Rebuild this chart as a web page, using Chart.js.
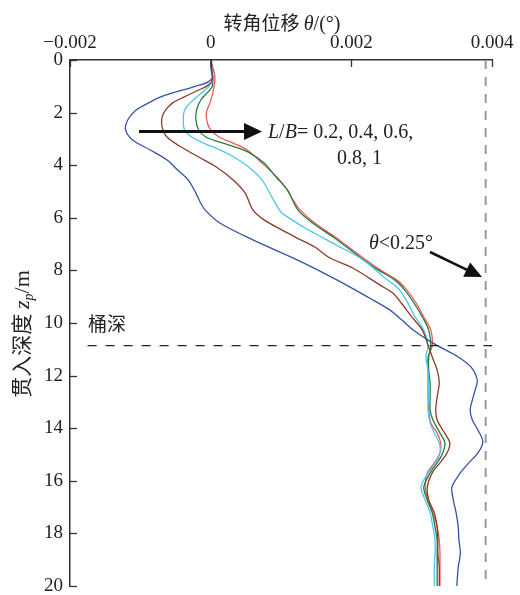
<!DOCTYPE html>
<html>
<head>
<meta charset="utf-8">
<script src="https://cdn.jsdelivr.net/npm/chart.js@4.4.0/dist/chart.umd.min.js"></script>
<style>
  html, body { margin: 0; padding: 0; background: #fff; }
  #wrap { width: 520px; height: 595px; }
</style>
</head>
<body>
<div id="wrap"><canvas id="chart" width="520" height="595"></canvas></div>
<script>
// L/B ratios of the five curves (left to right at 2-3 m depth)
const lbRatios = ['0.2', '0.4', '0.6', '0.8', '1'];

// depth z_p (m) and rotation angle θ (°), one pair per curve
const depth02 = [0, 0.38, 0.68, 0.84, 0.95, 1.10, 1.25, 1.41, 1.60, 1.90, 2.28, 2.66, 3.04, 3.42, 3.80, 4.18, 4.56, 5.06, 5.40, 5.70,
    6.20, 6.84, 7.60, 8.37, 9.13, 9.51, 9.89, 10.27, 10.65, 10.87, 11.29, 11.67, 12.17, 12.55, 12.93, 13.31, 13.69, 14.07, 14.52, 14.94,
    15.32, 15.70, 16.24, 16.73, 17.22, 17.76, 18.25, 18.75, 19.28, 20.0];
const theta02 = [0, 0.00001, 0.00002, -0.00004, -0.00015, -0.00034, -0.00054, -0.00072, -0.00086, -0.00106, -0.00118, -0.00121, -0.00111, -0.00086, -0.00062, -0.00047, -0.00032, -0.00021, -0.00015, -0.00008,
    0.00013, 0.00060, 0.00123, 0.00180, 0.00231, 0.00255, 0.00272, 0.00288, 0.00309, 0.00323, 0.00352, 0.00370, 0.00379, 0.00376, 0.00372, 0.00369, 0.00372, 0.00380, 0.00387, 0.00380,
    0.00367, 0.00355, 0.00343, 0.00345, 0.00349, 0.00352, 0.00353, 0.00355, 0.00352, 0.00350];

const depth04 = [0, 0.38, 0.68, 0.87, 1.03, 1.14, 1.41, 1.63, 1.90, 2.17, 2.55, 2.93, 3.31, 3.69, 4.07, 4.56, 5.06, 5.70, 6.08, 6.46,
    6.77, 7.11, 7.53, 7.91, 8.56, 8.86, 9.24, 9.77, 10.27, 10.76, 11.29, 11.79, 12.28, 12.81, 13.31, 13.69, 14.07, 14.56, 14.94, 15.32,
    15.70, 16.24, 16.73, 17.22, 17.76, 18.25, 18.75, 19.28, 20];
const theta04 = [0, 0.00001, 0.00003, 0.00000, -0.00008, -0.00017, -0.00038, -0.00054, -0.00064, -0.00069, -0.00069, -0.00062, -0.00042, -0.00017, 0.00008, 0.00032, 0.00049, 0.00060, 0.00076, 0.00101,
    0.00123, 0.00148, 0.00170, 0.00202, 0.00241, 0.00259, 0.00271, 0.00286, 0.00301, 0.00308, 0.00315, 0.00322, 0.00325, 0.00322, 0.00320, 0.00322, 0.00330, 0.00340, 0.00336, 0.00326,
    0.00315, 0.00308, 0.00310, 0.00318, 0.00322, 0.00323, 0.00323, 0.00325, 0.00325];

const depth06 = [0, 0.38, 0.76, 0.95, 1.14, 1.41, 1.63, 1.90, 2.28, 2.66, 2.93, 3.16, 3.42, 3.69, 4.07, 4.56, 5.21, 5.78, 6.08, 6.39,
    6.69, 7.03, 7.45, 7.79, 8.29, 8.67, 9.13, 9.70, 10.27, 10.87, 11.29, 11.79, 12.28, 12.81, 13.31, 13.80, 14.18, 14.56, 14.94, 15.32,
    15.70, 16.24, 16.73, 17.22, 17.76, 18.25, 18.75, 19.28, 20];
const theta06 = [0, 0.00001, 0.00003, -0.00001, -0.00008, -0.00020, -0.00029, -0.00037, -0.00039, -0.00037, -0.00027, -0.00010, 0.00013, 0.00033, 0.00054, 0.00073, 0.00087, 0.00100, 0.00116, 0.00134,
    0.00155, 0.00178, 0.00208, 0.00226, 0.00248, 0.00266, 0.00278, 0.00289, 0.00303, 0.00309, 0.00306, 0.00309, 0.00310, 0.00310, 0.00309, 0.00312, 0.00318, 0.00325, 0.00326, 0.00320,
    0.00309, 0.00299, 0.00305, 0.00312, 0.00316, 0.00319, 0.00319, 0.00318, 0.00318];

const depth08 = [0, 0.38, 0.68, 1.03, 1.25, 1.52, 1.90, 2.28, 2.66, 2.93, 3.12, 3.31, 3.54, 3.92, 4.45, 4.94, 5.70, 6.20, 6.73, 7.49,
    7.98, 8.37, 8.75, 9.24, 9.77, 10.27, 10.87, 11.29, 11.79, 12.28, 12.81, 13.31, 13.69, 14.18, 14.56, 14.94, 15.32, 15.70, 16.24, 16.73,
    17.22, 17.76, 18.25, 18.75, 19.28, 20];
const theta08 = [0, 0.00002, 0.00003, 0.00002, -0.00005, -0.00014, -0.00020, -0.00021, -0.00017, -0.00007, 0.00013, 0.00035, 0.00056, 0.00076, 0.00093, 0.00109, 0.00124, 0.00145, 0.00174, 0.00212,
    0.00238, 0.00262, 0.00276, 0.00289, 0.00301, 0.00310, 0.00313, 0.00310, 0.00310, 0.00312, 0.00312, 0.00312, 0.00316, 0.00326, 0.00333, 0.00330, 0.00322, 0.00312, 0.00303, 0.00308,
    0.00315, 0.00319, 0.00322, 0.00322, 0.00322, 0.00322];

const depth10 = [0, 0.27, 0.65, 1.14, 1.63, 1.98, 2.36, 2.66, 2.93, 3.16, 3.42, 3.92, 4.45, 4.94, 5.32, 5.70, 6.20, 6.73, 7.49, 7.98,
    8.37, 8.75, 9.24, 9.77, 10.27, 10.87, 11.29, 11.79, 12.28, 12.81, 13.31, 13.80, 14.18, 14.56, 14.94, 15.32, 15.70, 16.24, 16.73, 17.22,
    17.76, 18.25, 18.75, 19.28, 20];
const theta10 = [0, 0.00003, 0.00006, 0.00004, -0.00001, -0.00006, -0.00005, 0.00000, 0.00012, 0.00032, 0.00052, 0.00073, 0.00094, 0.00109, 0.00117, 0.00127, 0.00148, 0.00177, 0.00215, 0.00241,
    0.00265, 0.00279, 0.00292, 0.00303, 0.00313, 0.00315, 0.00309, 0.00309, 0.00309, 0.00309, 0.00310, 0.00313, 0.00322, 0.00327, 0.00326, 0.00318, 0.00308, 0.00305, 0.00309, 0.00316,
    0.00322, 0.00325, 0.00326, 0.00326, 0.00326];

// reference lines
const bucketDepth = 10.86;          // 桶深
const thetaLimit = 0.00391;         // θ<0.25°
const bucketLineX = [-0.00175, 0.004];

// axis ticks
const xTicks = [-0.002, 0, 0.002, 0.004];
const yTicks = [0, 2, 4, 6, 8, 10, 12, 14, 16, 18, 20];

const serif = "'Liberation Serif', 'Times New Roman', serif";
const cjk = "'Noto Sans CJK SC', 'Noto Sans', sans-serif";
const lineColors = ['#3553a6', '#8b3b27', '#4cc6ee', '#2b7b3d', '#f0575a'];

const curves = [[depth02, theta02], [depth04, theta04], [depth06, theta06], [depth08, theta08], [depth10, theta10]];

function toPoints(depths, thetas) {
    return depths.map((z, i) => ({ x: thetas[i], y: z }));
}

function fmtTick(v) {
    if (Math.abs(v) < 1e-9) return '0';
    return (v < 0 ? '\u2212' : '') + Math.abs(v).toFixed(3);
}

// draw a row of text runs with mixed fonts, centred or left-aligned at x
function drawRuns(ctx, runs, x, y, align) {
    let total = 0;
    runs.forEach(r => { ctx.font = r.font; r.w = ctx.measureText(r.text).width; total += r.w; });
    let cx = align === 'center' ? x - total / 2 : x;
    ctx.textAlign = 'left';
    ctx.textBaseline = 'alphabetic';
    runs.forEach(r => {
        ctx.font = r.font;
        ctx.fillText(r.text, cx, y + (r.dy || 0));
        cx += r.w;
    });
}

function arrow(ctx, x1, y1, x2, y2, headLen, headHalf, width) {
    const dx = x2 - x1, dy = y2 - y1;
    const len = Math.hypot(dx, dy);
    const ux = dx / len, uy = dy / len;
    const bx = x2 - ux * headLen, by = y2 - uy * headLen;
    ctx.save();
    ctx.strokeStyle = '#111';
    ctx.fillStyle = '#111';
    ctx.lineWidth = width;
    ctx.beginPath();
    ctx.moveTo(x1, y1);
    ctx.lineTo(bx + ux, by + uy);
    ctx.stroke();
    ctx.beginPath();
    ctx.moveTo(x2, y2);
    ctx.lineTo(bx - uy * headHalf, by + ux * headHalf);
    ctx.lineTo(bx + uy * headHalf, by - ux * headHalf);
    ctx.closePath();
    ctx.fill();
    ctx.restore();
}

const decorPlugin = {
    id: 'decor',
    afterDraw(chart) {
        const ctx = chart.ctx;
        const xs = chart.scales.x, ys = chart.scales.y;
        const area = chart.chartArea;

        // inward tick marks
        ctx.save();
        ctx.strokeStyle = '#333';
        ctx.lineWidth = 1.3;
        yTicks.forEach(v => {
            const py = Math.round(ys.getPixelForValue(v)) + 0.5;
            ctx.beginPath();
            ctx.moveTo(area.left, py);
            ctx.lineTo(area.left + 7, py);
            ctx.stroke();
        });
        xTicks.forEach(v => {
            const px = Math.round(xs.getPixelForValue(v)) + 0.5;
            ctx.beginPath();
            ctx.moveTo(px, area.top);
            ctx.lineTo(px, area.top + 7);
            ctx.stroke();
        });
        ctx.restore();

        ctx.save();
        ctx.fillStyle = '#222';

        // top axis title
        drawRuns(ctx, [
            { text: '转角位移 ', font: '19px ' + cjk },
            { text: 'θ', font: 'italic 20px ' + serif },
            { text: '/(°)', font: '20px ' + serif }
        ], 282, 30, 'center');

        // left axis title, rotated
        ctx.save();
        ctx.translate(29, 334);
        ctx.rotate(-Math.PI / 2);
        drawRuns(ctx, [
            { text: '贯入深度 ', font: '21px ' + cjk },
            { text: 'z', font: 'italic 22px ' + serif },
            { text: 'p', font: 'italic 14px ' + serif, dy: 4 },
            { text: '/m', font: '22px ' + serif }
        ], 0, 0, 'center');
        ctx.restore();

        // annotations
        drawRuns(ctx, [{ text: '桶深', font: '19px ' + cjk }], 88, 331, 'left');
        drawRuns(ctx, [
            { text: 'L', font: 'italic 20px ' + serif },
            { text: '/', font: '20px ' + serif },
            { text: 'B', font: 'italic 20px ' + serif },
            { text: '= ' + lbRatios.slice(0, 3).join(', ') + ',', font: '20px ' + serif }
        ], 268, 138, 'left');
        drawRuns(ctx, [{ text: lbRatios.slice(3).join(', '), font: '20px ' + serif }], 337, 164, 'left');
        drawRuns(ctx, [
            { text: 'θ', font: 'italic 20px ' + serif },
            { text: '<0.25°', font: '20px ' + serif }
        ], 369, 249, 'left');
        ctx.restore();

        arrow(ctx, 139, 131.5, 262, 131.5, 18, 8.5, 3);
        arrow(ctx, 430, 252, 482, 277, 17, 8, 2.5);
    }
};

const datasets = [
    {
        data: bucketLineX.map(x => ({ x: x, y: bucketDepth })),
        borderColor: '#222',
        borderWidth: 1.4,
        borderDash: [9, 9]
    },
    {
        data: [{ x: thetaLimit, y: 0 }, { x: thetaLimit, y: 20 }],
        borderColor: '#9a9a9a',
        borderWidth: 2,
        borderDash: [9, 8]
    }
].concat(curves.map((c, i) => ({
    label: 'L/B=' + lbRatios[i],
    data: toPoints(c[0], c[1]),
    borderColor: lineColors[i],
    borderWidth: 1.3,
    tension: 0.3
})));

new Chart(document.getElementById('chart'), {
    type: 'scatter',
    data: { datasets: datasets.map(d => Object.assign({ showLine: true, pointRadius: 0, fill: false }, d)) },
    options: {
        responsive: false,
        animation: false,
        events: [],
        layout: { padding: { left: 0, right: 0, top: 0, bottom: 0 } },
        plugins: {
            legend: { display: false },
            tooltip: { enabled: false }
        },
        scales: {
            x: {
                type: 'linear',
                position: 'top',
                min: -0.002,
                max: 0.004,
                afterBuildTicks: scale => { scale.ticks = xTicks.map(v => ({ value: v })); },
                afterFit: scale => {
                    scale.height = 60;
                    scale.paddingLeft = 0;
                    scale.paddingRight = 28;
                },
                grid: { display: false, drawTicks: false },
                border: { display: true, color: '#333', width: 1.5 },
                ticks: {
                    padding: 6,
                    color: '#222',
                    font: { family: serif, size: 19 },
                    maxRotation: 0,
                    callback: v => fmtTick(v)
                }
            },
            y: {
                type: 'linear',
                reverse: true,
                min: 0,
                max: 20,
                afterBuildTicks: scale => { scale.ticks = yTicks.map(v => ({ value: v })); },
                afterFit: scale => {
                    scale.width = 70;
                    scale.paddingTop = 0;
                    scale.paddingBottom = 9;
                },
                grid: { display: false, drawTicks: false },
                border: { display: true, color: '#333', width: 1.5 },
                ticks: {
                    padding: 7,
                    color: '#222',
                    font: { family: serif, size: 19 },
                    callback: v => String(v)
                }
            }
        }
    },
    plugins: [decorPlugin]
});
</script>
</body>
</html>
